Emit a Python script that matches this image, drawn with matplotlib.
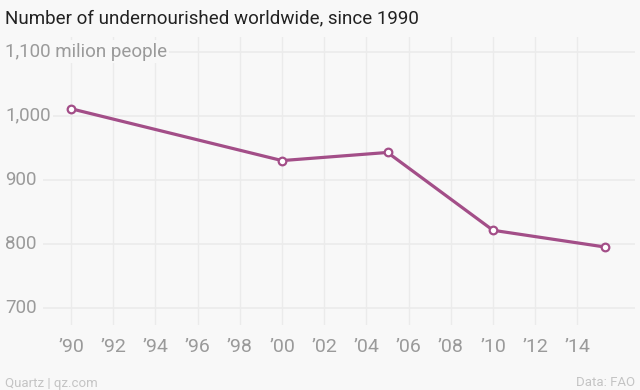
import matplotlib
matplotlib.use("Agg")
import matplotlib.pyplot as plt
import matplotlib.transforms as mtransforms

# data (FAO, millions of undernourished people)
years = [1990, 2000, 2005, 2010, 2015.3]
values = [1010.6, 929.6, 942.3, 820.7, 794.6]

xticks = list(range(1990, 2015, 2))
xticklabels = ["\u2019" + str(y)[2:] for y in xticks]
yticks = [700, 800, 900, 1000, 1100]
yticklabels = ["700", "800", "900", "1,000", "1,100 milion people"]

title = "Number of undernourished worldwide, since 1990"
source_left = "Quartz | qz.com"
source_right = "Data: FAO"

bg = "#f8f8f8"
grid_col = "#ebebeb"
tick_col = "#9a9a9a"
line_col = "#a34e88"

plt.rcParams["font.family"] = ["Liberation Sans Narrow", "Roboto", "DejaVu Sans"]

fig = plt.figure(figsize=(6.4, 3.9), dpi=100, facecolor=bg)
ax = fig.add_axes([43 / 640, 1 - 325 / 390, 592 / 640, 288 / 390])
ax.set_facecolor(bg)

ax.set_xlim(1988.67, 2016.73)
ax.set_ylim(672.7, 1122.7)

# grid
for x in xticks:
    ax.axvline(x, color=grid_col, lw=1, zorder=0)
for y in yticks:
    ax.axhline(y, color=grid_col, lw=1.2, zorder=0)

ax.plot(years, values, color=line_col, lw=2.3, marker="o", ms=5.5,
        mfc="white", mec=line_col, mew=1.6, zorder=3, clip_on=False)

for s in ax.spines.values():
    s.set_visible(False)
ax.set_yticks([])
ax.set_xticks(xticks)
ax.set_xticklabels(xticklabels, fontsize=14, color=tick_col)
ax.tick_params(axis="x", length=0, pad=9)

# y labels left-aligned at the figure edge, covering the grid line
trans = mtransforms.blended_transform_factory(fig.transFigure, ax.transData)
for y, lab in zip(yticks, yticklabels):
    ax.text(5 / 640, y, lab, transform=trans, ha="left", va="center",
            fontsize=13.5, color=tick_col,
            bbox=dict(facecolor=bg, edgecolor="none", pad=1.5))

fig.text(5 / 640, 1 - 18 / 390, title, ha="left", va="center",
         fontsize=13.5, color="#222222")
fig.text(5 / 640, 1 - 383 / 390, source_left, ha="left", va="center",
         fontsize=9.5, color="#c4c4c4")
fig.text(635 / 640, 1 - 383 / 390, source_right, ha="right", va="center",
         fontsize=9.5, color="#c4c4c4")

fig.savefig("out.png", dpi=100, facecolor=bg)
